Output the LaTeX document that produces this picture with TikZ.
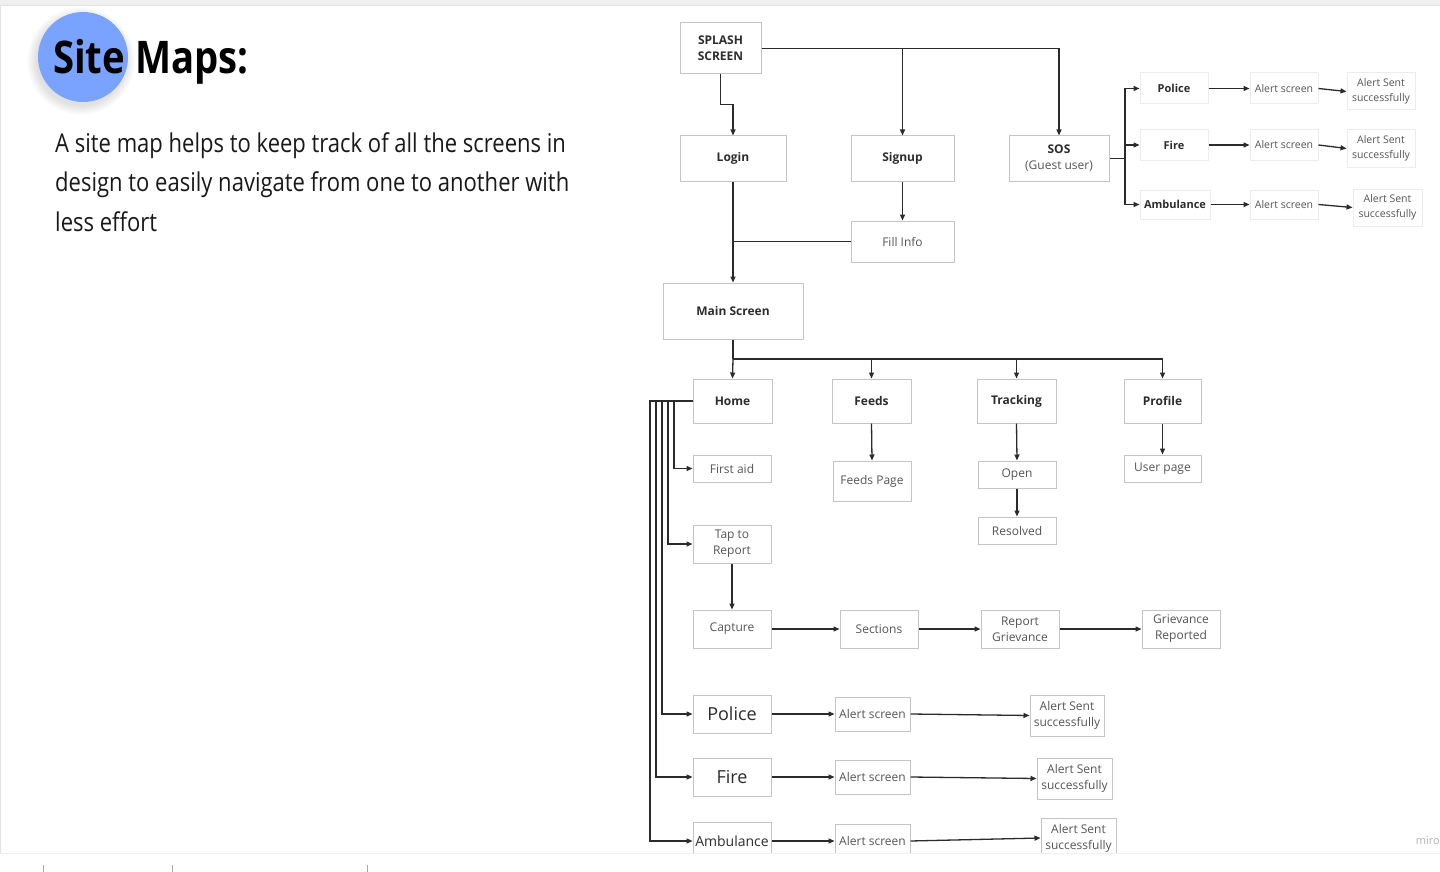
\documentclass[tikz,border=0pt]{standalone}
\usepackage{fontspec}
\setmainfont{Open Sans}
\newfontfamily\segoe[FakeStretch=0.85]{Open Sans}
\usetikzlibrary{arrows.meta}

\definecolor{linec}{HTML}{2B2B2B}
\definecolor{boxline}{HTML}{C4C4C4}
\definecolor{faintline}{HTML}{ECECEC}
\definecolor{txtdark}{HTML}{2D2D2D}
\definecolor{txtgrey}{HTML}{555555}
\definecolor{dotblue}{HTML}{79A3FE}
\definecolor{frame}{HTML}{E2E2E2}

\tikzset{
  sz/.style 2 args={minimum width=#1pt, minimum height=#2pt},
  box/.style={draw=boxline, line width=1pt, fill=white, inner sep=1pt, align=center,
              text=txtgrey, font=\fontsize{12}{16}\selectfont},
  hd/.style={box, text=txtdark, font=\bfseries\fontsize{12}{16}\selectfont},
  soft/.style={box, draw=faintline, font=\fontsize{10.5}{15}\selectfont},
  softhd/.style={soft, text=txtdark, font=\bfseries\fontsize{11}{15}\selectfont},
  big/.style={box, text=txtdark, font=\fontsize{18}{22}\selectfont},
  link/.style={draw=linec, line width=1.3pt},
  arr/.style={link, -{Triangle[length=6pt,width=5pt]}},
}

\begin{document}
\begin{tikzpicture}[x=1pt,y=-1pt]
\useasboundingbox (0,0) rectangle (1440,872);
\fill[white] (0,0) rectangle (1440,872);

% board frame
\fill[frame!50] (0,0) rectangle (1440,5);
\draw[frame, line width=1pt] (0,5.5) -- (1440,5.5);
\draw[frame, line width=1pt] (0.5,5) -- (0.5,853);

% heading: blue dot with a soft shadow
\foreach \r in {1,...,10}
  \fill[black, opacity=0.012] (81,61) circle ({44+\r});
\fill[dotblue] (83,57) circle (45);
\node[anchor=base west, inner sep=0, font=\segoe\bfseries\fontsize{45}{50}\selectfont]
  (title) at (53,74) {Site Maps:};
\node[anchor=base west, inner sep=0, align=left, text=black!90,
      font=\segoe\fontsize{25.9}{39.5}\selectfont]
  (intro) at (55,231) {A site map helps to keep track of all the screens in\\
  design to easily navigate from one to another with\\less effort};

% entry screens
\node[hd, sz={81}{51}] (splash) at (720.5,48.5) {SPLASH\\SCREEN};
\node[hd, sz={106}{45}] (login) at (733,158.5) {Login};
\node[hd, sz={103}{45}] (signup) at (902.5,158.5) {Signup};
\node[hd, sz={100}{45}] (sos) at (1059,158.5) {SOS\\{\mdseries\color{txtgrey}(Guest user)}};
\node[box, sz={103}{41}] (fill) at (902.5,241.5) {Fill Info};
\node[hd, sz={140}{56}] (main) at (733,311) {Main Screen};

% guest SOS branch
\node[softhd, sz={68}{31}] (spolice) at (1174,88.5) {Police};
\node[softhd, sz={68}{31}] (sfire) at (1174,145) {Fire};
\node[softhd, sz={70}{29}] (samb) at (1175,204.5) {Ambulance};
\node[soft, sz={68}{31}] (spalert) at (1284,88.5) {Alert screen};
\node[soft, sz={68}{31}] (sfalert) at (1284,145) {Alert screen};
\node[soft, sz={68}{29}] (saalert) at (1284,204.5) {Alert screen};
\node[soft, sz={68}{37}] (spsent) at (1381,91.5) {Alert Sent\\successfully};
\node[soft, sz={68}{37}] (sfsent) at (1381,148.5) {Alert Sent\\successfully};
\node[soft, sz={69}{37}] (sasent) at (1387.5,207.5) {Alert Sent\\successfully};

% main tabs
\node[hd, sz={79}{44}] (home) at (732.5,401) {Home};
\node[hd, sz={79}{44}] (feeds) at (871.5,401) {Feeds};
\node[hd, sz={79}{44}] (tracking) at (1016.5,401) {Tracking};
\node[hd, sz={77}{44}] (profile) at (1162.5,401) {Profile};

\node[box, sz={78}{40}] (feedspage) at (872,481) {Feeds Page};
\node[box, sz={78}{27}] (open) at (1017,474.5) {Open};
\node[box, sz={78}{27}] (resolved) at (1017,530.5) {Resolved};
\node[box, sz={77}{27}] (userpage) at (1162.5,468.5) {User page};

% home screens
\node[box, sz={78}{27}] (firstaid) at (732,468.5) {First aid};
\node[box, sz={78}{38}] (tap) at (732,544) {Tap to\\Report};
\node[box, sz={78}{38}] (capture) at (732,629) {Capture};
\node[box, sz={78}{38}] (sections) at (879,629) {Sections};
\node[box, sz={78}{38}] (repgriev) at (1020,629) {Report\\Grievance};
\node[box, sz={78}{38}] (grievrep) at (1181,629) {Grievance\\Reported};

\node[big, sz={78}{38}] (hpolice) at (732,714) {Police};
\node[box, sz={75}{34}] (hpalert) at (872.5,714) {Alert screen};
\node[box, sz={74}{41}] (hpsent) at (1067,715.5) {Alert Sent\\successfully};
\node[big, sz={78}{38}] (hfire) at (732,777) {Fire};
\node[box, sz={75}{34}] (hfalert) at (872.5,777) {Alert screen};
\node[box, sz={75}{41}] (hfsent) at (1074.5,778.5) {Alert Sent\\successfully};
\node[box, sz={78}{38}, font=\fontsize{14}{18}\selectfont, text=txtdark] (hamb) at (732,841) {Ambulance};
\node[box, sz={75}{34}] (haalert) at (872.5,841) {Alert screen};
\node[box, sz={75}{40}] (hasent) at (1078.5,838) {Alert Sent\\successfully};

% connectors: entry
\draw[arr] (splash.south) -- ++(0,30) -| (login.north);
\draw[arr] (splash.east) -| (sos.north);
\draw[arr] (splash.east -| signup.north) -- (signup.north);
\draw[arr] (signup.south) -- (fill.north);
\draw[arr] (login.south) -- (main.north);
\draw[link] (fill.west) -- (fill.west -| login.south);

% connectors: guest SOS
\coordinate (sosj) at (1125,158.5);
\draw[link] (sos.east) -- (sosj);
\draw[arr] (sosj) |- (spolice.west);
\draw[arr] (sosj) |- (sfire.west);
\draw[arr] (sosj) |- (samb.west);
\draw[arr] (spolice.east) -- (spalert.west);
\draw[arr] (sfire.east) -- (sfalert.west);
\draw[arr] (samb.east) -- (saalert.west);
\draw[arr] (spalert.east) -- (spsent.west);
\draw[arr] (sfalert.east) -- (sfsent.west);
\draw[arr] (saalert.east) -- (sasent.west);

% connectors: tabs
\coordinate (mj) at (733,359);
\draw[link] (main.south) -- (mj);
\draw[arr] (mj) -- (home.north);
\draw[arr] (mj) -| (feeds.north);
\draw[arr] (mj) -| (tracking.north);
\draw[arr] (mj) -| (profile.north);
\draw[arr] (feeds.south) -- (feedspage.north);
\draw[arr] (tracking.south) -- (open.north);
\draw[arr] (open.south) -- (resolved.north);
\draw[arr] (profile.south) -- (userpage.north);

% connectors: home bus
\draw[arr] (home.west) -- (674,401) |- (firstaid.west);
\draw[arr] (home.west) -- (668,401) |- (tap.west);
\draw[arr] (home.west) -- (662,401) |- (hpolice.west);
\draw[arr] (home.west) -- (656,401) |- (hfire.west);
\draw[arr] (home.west) -- (650,401) |- (hamb.west);
\draw[arr] (tap.south) -- (capture.north);
\draw[arr] (capture.east) -- (sections.west);
\draw[arr] (sections.east) -- (repgriev.west);
\draw[arr] (repgriev.east) -- (grievrep.west);
\draw[arr] (hpolice.east) -- (hpalert.west);
\draw[arr] (hpalert.east) -- (hpsent.west);
\draw[arr] (hfire.east) -- (hfalert.west);
\draw[arr] (hfalert.east) -- (hfsent.west);
\draw[arr] (hamb.east) -- (haalert.west);
\draw[arr] (haalert.east) -- (hasent.west);

\node[text=black!30, font=\fontsize{11}{13}\selectfont, anchor=base east, inner sep=0]
  (miro) at (1440,844) {miro};

% footer strip
\fill[white] (0,853) rectangle (1440,872);
\draw[frame!80!black!20, line width=1.2pt] (0,853.5) -- (1440,853.5);
\foreach \sx in {43,172,367}
  \draw[black!35, line width=0.8pt] (\sx,865) -- (\sx,872);
\end{tikzpicture}
\end{document}
